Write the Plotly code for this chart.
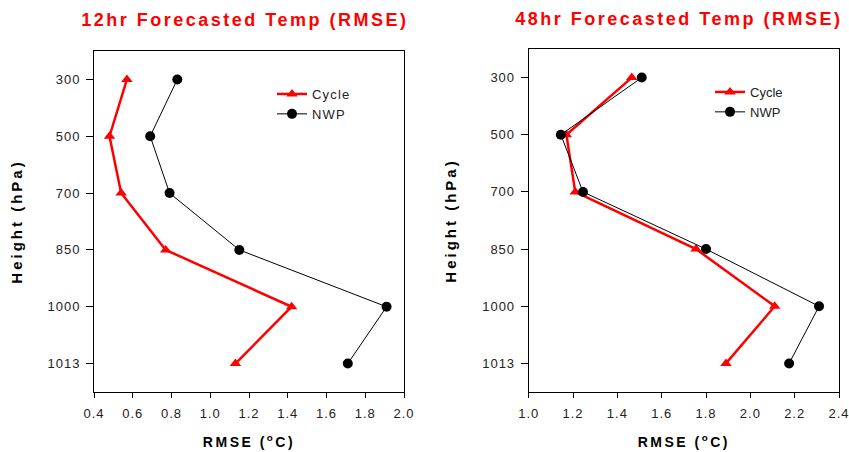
import plotly.graph_objects as go

# ---- data ----
levels = ["300", "500", "700", "850", "1000", "1013"]
cycle_12 = [0.57, 0.48, 0.54, 0.77, 1.42, 1.13]
nwp_12 = [0.83, 0.69, 0.79, 1.15, 1.91, 1.71]
cycle_48 = [1.465, 1.17, 1.21, 1.755, 2.11, 1.89]
nwp_48 = [1.51, 1.145, 1.245, 1.80, 2.31, 2.175]
x_ticks_12 = [0.4, 0.6, 0.8, 1.0, 1.2, 1.4, 1.6, 1.8, 2.0]
x_ticks_48 = [1.0, 1.2, 1.4, 1.6, 1.8, 2.0, 2.2, 2.4]
titles = ["12hr Forecasted Temp (RMSE)", "48hr Forecasted Temp (RMSE)"]

W, H = 849, 452
RED = "#ff0000"
FONT = "Liberation Sans, Arial, sans-serif"

fig = go.Figure()

def add_pair(cyc, nwp, xa, ya, leg):
    fig.add_trace(go.Scatter(
        x=cyc, y=levels, name="Cycle", mode="lines+markers",
        line=dict(color=RED, width=2.5),
        marker=dict(symbol="triangle-up", size=10, color=RED),
        xaxis=xa, yaxis=ya, legend=leg))
    fig.add_trace(go.Scatter(
        x=nwp, y=levels, name="NWP", mode="lines+markers",
        line=dict(color="black", width=1),
        marker=dict(symbol="circle", size=10, color="black"),
        xaxis=xa, yaxis=ya, legend=leg))

add_pair(cycle_12, nwp_12, "x", "y", "legend")
add_pair(cycle_48, nwp_48, "x2", "y2", "legend2")

tickfont = dict(family=FONT, size=13, color="#222222")
titlefont_x = dict(family=FONT, size=14, color="black", weight="bold")
titlefont_y = dict(family=FONT, size=15, color="black", weight="bold")

def xaxis(domain, ticks, rng, anchor):
    return dict(
        domain=domain, anchor=anchor, range=rng,
        tickvals=ticks, ticktext=[f"{t:.1f}" for t in ticks],
        showline=True, linecolor="black", linewidth=1, mirror=True,
        ticks="outside", ticklen=5, tickcolor="black", tickwidth=1,
        tickfont=tickfont, showgrid=False, zeroline=False,
        ticklabelstandoff=4,
        title=dict(text="RMSE (<sup>o</sup>C)", font=titlefont_x, standoff=17),
        automargin=False)

def yaxis(domain, anchor):
    return dict(
        domain=domain, anchor=anchor, type="category",
        categoryorder="array", categoryarray=levels,
        range=[5.5, -0.5],
        showline=True, linecolor="black", linewidth=1, mirror=True,
        ticks="outside", ticklen=7, tickcolor="black", tickwidth=1,
        tickfont=tickfont, showgrid=False, zeroline=False,
        ticklabelstandoff=3,
        title=dict(text="Height (hPa)", font=titlefont_y, standoff=25),
        automargin=False)

fig.update_layout(
    width=W, height=H,
    margin=dict(l=0, r=0, t=0, b=0),
    paper_bgcolor="white", plot_bgcolor="white",
    font=dict(family=FONT),
    xaxis=xaxis([94 / W, 404 / W], x_ticks_12, [0.4, 2.0], "y"),
    yaxis=yaxis([(H - 392) / H, (H - 51) / H], "x"),
    xaxis2=xaxis([528.7 / W, 839 / W], x_ticks_48, [1.0, 2.4], "y2"),
    yaxis2=yaxis([(H - 392) / H, (H - 49) / H], "x2"),
    legend=dict(x=272 / W, y=1 - 79 / H, xanchor="left", yanchor="top",
                bgcolor="rgba(0,0,0,0)", font=dict(family=FONT, size=13, color="#222222"),
                tracegroupgap=0),
    legend2=dict(x=710 / W, y=1 - 77 / H, xanchor="left", yanchor="top",
                 bgcolor="rgba(0,0,0,0)", font=dict(family=FONT, size=13, color="#222222"),
                 tracegroupgap=0),
    showlegend=True,
    annotations=[
        dict(text=titles[0], x=245 / W, y=1 - 20 / H, xref="paper", yref="paper",
             showarrow=False, xanchor="center", yanchor="middle",
             font=dict(family=FONT, size=18, color=RED, weight="bold")),
        dict(text=titles[1], x=679 / W, y=1 - 19 / H, xref="paper", yref="paper",
             showarrow=False, xanchor="center", yanchor="middle",
             font=dict(family=FONT, size=18, color=RED, weight="bold")),
    ],
)

post = """
document.body.style.margin='0';
document.body.style.padding='0';
var gd=document.getElementById('{plot_id}');
function sp(sel,v){gd.querySelectorAll(sel).forEach(function(e){e.style.letterSpacing=v;});}
sp('.annotation-text','2.5px');
sp('.xtitle','2.5px'); sp('.x2title','2.5px');
sp('.ytitle','3px'); sp('.y2title','3px');
sp('.xtick text','1px'); sp('.x2tick text','1px');
sp('.ytick text','1px'); sp('.y2tick text','1px');
sp('.legendtext','1.2px');
"""

fig.write_html("out.html", config={"displayModeBar": False}, post_script=post)
